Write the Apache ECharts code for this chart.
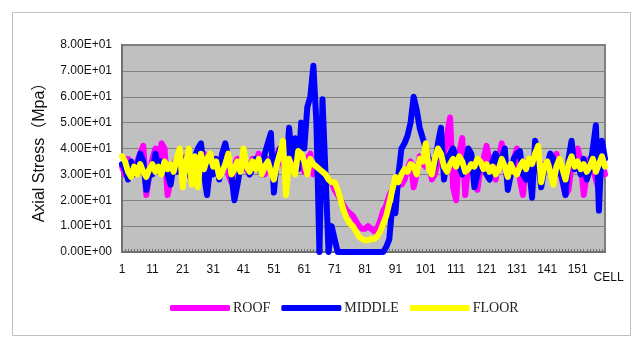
<!DOCTYPE html>
<html>
<head>
<meta charset="utf-8">
<script src="https://cdn.jsdelivr.net/npm/echarts@6/dist/echarts.min.js"></script>
<style>
  html, body { margin: 0; padding: 0; background: #fff; }
  #chart { width: 640px; height: 348px; }
</style>
</head>
<body>
<div id="chart"></div>
<script>
// 单元编号 1..160
var cells = [];
for (var c = 1; c <= 160; c++) { cells.push(String(c)); }

var roof = [
  33, 30, 36, 34, 31, 35, 38, 41, 22, 30,
  36, 40, 33, 42, 40, 22, 28, 33, 36, 31,
  34, 37, 30, 28, 35, 33, 36, 38, 26, 30,
  34, 36, 32, 38, 41, 30, 27, 34, 36, 33,
  35, 32, 30, 36, 34, 38, 33, 30, 36, 34,
  32, 38, 40, 34, 30, 42, 36, 33, 35, 34,
  31, 36, 38, 30, 34, 32, 30, 29, 28, 27,
  24, 22, 20, 18, 16, 15, 14, 12, 10, 9,
  9, 10, 9, 8, 9, 12, 16, 18, 22, 24,
  27, 30, 26, 28, 32, 35, 25, 30, 37, 34,
  33, 36, 28, 30, 35, 34, 38, 45, 52, 25,
  20, 38, 44, 22, 34, 36, 30, 24, 33, 36,
  41, 35, 30, 28, 36, 42, 33, 27, 30, 36,
  40, 28, 22, 35, 33, 30, 36, 32, 29, 34,
  33, 36, 30, 38, 32, 27, 22, 24, 34, 37,
  40, 35, 22, 30, 36, 33, 28, 24, 35, 30
];

var middle = [
  34, 32, 28, 35, 30, 33, 38, 35, 24, 30,
  30, 38, 32, 35, 33, 30, 26, 34, 31, 33,
  36, 30, 34, 32, 37, 40, 42, 30, 22, 33,
  30, 36, 28, 38, 42, 36, 30, 20, 26, 33,
  37, 34, 30, 32, 36, 33, 30, 38, 42, 46,
  23, 36, 40, 38, 30, 48, 36, 44, 32, 50,
  40, 56, 60, 72, 50, 0, 59, 30, 0, 10,
  5, 0, 0, 0, 0, 0, 0, 0, 0, 0,
  0, 0, 0, 0, 0, 0, 0, 2, 5, 18,
  15, 30, 40, 42, 45, 50, 60, 55, 48, 44,
  40, 36, 30, 34, 42, 48, 28, 36, 38, 40,
  36, 33, 30, 34, 40, 38, 25, 30, 34, 33,
  30, 28, 35, 38, 34, 36, 40, 24, 30, 36,
  38, 39, 30, 28, 33, 21, 43, 36, 25, 32,
  34, 38, 36, 30, 33, 28, 22, 36, 43, 32,
  34, 30, 36, 28, 32, 40, 49, 16, 43, 36
];

var floor = [
  37, 35, 31, 29, 33, 30, 34, 31, 29, 32,
  34, 31, 33, 30, 35, 32, 34, 31, 36, 40,
  25, 34, 40, 26, 37, 25, 38, 32, 36, 38,
  33, 35, 29, 31, 34, 38, 30, 32, 35, 31,
  40, 33, 31, 35, 32, 36, 30, 33, 35, 31,
  28, 34, 38, 43, 22, 36, 32, 30, 39, 38,
  35, 30, 36, 34, 33, 32, 31, 30, 28, 27,
  27, 24, 20, 16, 13, 11, 10, 8, 6, 5,
  4.5, 4.5, 5, 5, 6, 8, 11, 14, 19, 24,
  29, 27, 30, 32, 31, 34, 33, 30, 36, 35,
  42, 32, 30, 36, 40, 38, 33, 31, 34, 36,
  33, 37, 35, 31, 32, 34, 33, 36, 35, 32,
  34, 31, 33, 30, 32, 36, 33, 29, 34, 31,
  30, 33, 35, 32, 36, 34, 38, 41, 27, 33,
  35, 31, 26, 33, 36, 32, 28, 34, 37, 33,
  35, 32, 34, 31, 33, 36, 31, 34, 37, 33
];

var seriesNames = ['ROOF', 'MIDDLE', 'FLOOR'];
var seriesColors = ['#ff00ff', '#0000ff', '#ffff00'];
var seriesData = [roof, middle, floor];

//科学计数法标签
function sciLabel(v) {
  if (v === 0) return '0.00E+00';
  var e = Math.floor(Math.log10(v));
  var m = v / Math.pow(10, e);
  return m.toFixed(2) + 'E' + (e < 0 ? '-' : '+') + (Math.abs(e) < 10 ? '0' : '') + Math.abs(e);
}

var series = [];
for (var i = 0; i < seriesNames.length; i++) {
  series.push({
    name: seriesNames[i],
    type: 'line',
    data: seriesData[i],
    showSymbol: false,
    symbol: 'none',
    color: seriesColors[i],
    lineStyle: { width: 6, color: seriesColors[i], cap: 'round', join: 'round' }
  });
}

var myChart = echarts.init(document.getElementById('chart'));
myChart.setOption({
  animation: false,
  backgroundColor: '#fff',
  graphic: [{
    type: 'rect',
    shape: { x: 12.5, y: 12.5, width: 618, height: 323 },
    style: { fill: 'none', stroke: '#c0c0c0', lineWidth: 1 }
  }],
  legend: {
    left: 165,
    top: 296,
    itemWidth: 60,
    itemHeight: 6,
    itemGap: 11,
    icon: 'roundRect',
    data: seriesNames,
    textStyle: { fontFamily: 'Liberation Serif', fontSize: 14, color: '#222', padding: [0, 0, 0, -2] }
  },
  grid: {
    left: 122, right: 35, top: 45, bottom: 96,
    show: true,
    backgroundColor: '#c0c0c0',
    borderColor: '#808080',
    borderWidth: 2
  },
  xAxis: {
    type: 'category',
    data: cells,
    boundaryGap: false,
    name: 'CELL',
    nameLocation: 'end',
    nameGap: -18,
    nameTextStyle: {
      fontFamily: 'Liberation Sans', fontSize: 12, color: '#111',
      verticalAlign: 'top', padding: [20, 0, 0, 0]
    },
    axisLine: { lineStyle: { color: '#707070', width: 2 } },
    axisTick: { show: true, inside: true, interval: 0, length: 3, lineStyle: { color: '#707070' } },
    axisLabel: {
      interval: 9, margin: 12,
      fontFamily: 'Liberation Sans', fontSize: 12, color: '#111'
    },
    splitLine: { show: false }
  },
  yAxis: {
    type: 'value',
    min: 0, max: 80, interval: 10,
    name: 'Axial Stress（Mpa）',
    nameLocation: 'middle',
    nameRotate: 90,
    nameGap: 74,
    nameTextStyle: { fontFamily: 'Liberation Sans, Noto Sans CJK SC', fontSize: 16, color: '#111' },
    axisLine: { show: true, lineStyle: { color: '#707070', width: 2 } },
    axisTick: { show: false },
    axisLabel: {
      formatter: sciLabel, margin: 10,
      fontFamily: 'Liberation Sans', fontSize: 12, color: '#111'
    },
    splitLine: { lineStyle: { color: '#808080', width: 1 } }
  },
  series: series
});
</script>
</body>
</html>
